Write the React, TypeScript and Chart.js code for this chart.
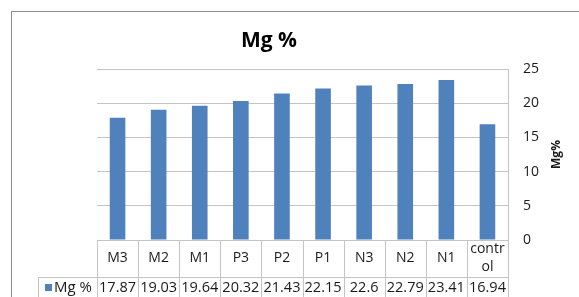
import React, { useEffect, useRef } from "react";
import { Chart, registerables } from "chart.js";

Chart.register(...registerables);

const categories: string[][] = [["M3"], ["M2"], ["M1"], ["P3"], ["P2"], ["P1"], ["N3"], ["N2"], ["N1"], ["contr", "ol"]];
const seriesName = "Mg %";
const mgValues: number[] = [17.87, 19.03, 19.64, 20.32, 21.43, 22.15, 22.6, 22.79, 23.41, 16.94];
const valueLabels: string[] = ["17.87", "19.03", "19.64", "20.32", "21.43", "22.15", "22.6", "22.79", "23.41", "16.94"];
const yTicks: number[] = [0, 5, 10, 15, 20, 25];
const chartTitle = "Mg %";
const yTitle = "Mg%";

const BAR = "#4f81bd";
const LINE = "#c4c4c4";
const TEXT = "#1a1a1a";
const FONT = "'Open Sans', 'Liberation Sans', sans-serif";

const tablePlugin = {
  id: "tablePlugin",
  afterDraw(chart: any) {
    const ctx = chart.ctx as CanvasRenderingContext2D;
    const area = chart.chartArea;
    const xs = chart.scales.x;
    const n = categories.length;
    const cw = (area.right - area.left) / n;
    const H = chart.height;
    const headerBottom = area.bottom + 37;
    ctx.save();
    // outer frame
    ctx.strokeStyle = "#8c8c8c";
    ctx.lineWidth = 1;
    ctx.strokeRect(11.5, 11.5, 800, 600);
    // chart title
    ctx.fillStyle = "#000";
    ctx.font = `bold 21px ${FONT}`;
    ctx.textAlign = "center";
    ctx.textBaseline = "alphabetic";
    ctx.fillText(chartTitle, 269, 47);
    // table lines
    ctx.strokeStyle = LINE;
    ctx.beginPath();
    for (let i = 0; i <= n; i++) {
      const x = Math.round(area.left + i * cw) + 0.5;
      ctx.moveTo(x, area.bottom);
      ctx.lineTo(x, H);
    }
    ctx.moveTo(38.5, Math.round(headerBottom) + 0.5);
    ctx.lineTo(area.right, Math.round(headerBottom) + 0.5);
    ctx.moveTo(38.5, Math.round(headerBottom) + 0.5);
    ctx.lineTo(38.5, H);
    ctx.stroke();
    // header labels
    ctx.fillStyle = TEXT;
    ctx.font = `14px ${FONT}`;
    ctx.textAlign = "center";
    ctx.textBaseline = "middle";
    categories.forEach((lab, i) => {
      const cx = xs.getPixelForValue(i);
      const mid = (area.bottom + headerBottom) / 2;
      if (lab.length === 1) {
        ctx.fillText(lab[0], cx, mid);
      } else {
        ctx.fillText(lab[0], cx, mid - 9);
        ctx.fillText(lab[1], cx, mid + 9);
      }
    });
    // values row
    ctx.font = `14.5px ${FONT}`;
    const rowMid = headerBottom + 11;
    valueLabels.forEach((v, i) => {
      const cx = xs.getPixelForValue(i);
      ctx.fillText(v, cx, rowMid);
    });
    // legend cell
    ctx.fillStyle = BAR;
    ctx.fillRect(45, rowMid - 4, 7, 7);
    ctx.fillStyle = TEXT;
    ctx.textAlign = "left";
    ctx.font = `15px ${FONT}`;
    ctx.fillText(seriesName, 54, rowMid);
    // y title, rotated
    ctx.save();
    ctx.translate(557, (area.top + area.bottom) / 2);
    ctx.rotate(-Math.PI / 2);
    ctx.textAlign = "center";
    ctx.font = `bold 12px ${FONT}`;
    ctx.fillText(yTitle, 0, 0);
    ctx.restore();
    ctx.restore();
  },
};

export default function App() {
  const ref = useRef<HTMLCanvasElement>(null);
  useEffect(() => {
    if (!ref.current) return;
    const chart = new Chart(ref.current, {
      type: "bar",
      data: {
        labels: categories.map((c) => c.join("")),
        datasets: [
          {
            label: seriesName,
            data: mgValues,
            backgroundColor: BAR,
            barPercentage: 0.38,
            categoryPercentage: 1,
          },
        ],
      },
      options: {
        animation: false,
        responsive: false,
        devicePixelRatio: 1,
        layout: { padding: { left: 97, right: 0, top: 69, bottom: 57 } },
        plugins: {
          legend: { display: false },
          tooltip: { enabled: false },
          title: { display: false },
        },
        scales: {
          x: { display: false, offset: true },
          y: {
            position: "right",
            min: 0,
            max: 25,
            afterBuildTicks: (s: any) => {
              s.ticks = yTicks.map((v) => ({ value: v }));
            },
            afterFit: (s: any) => {
              s.width = 71;
            },
            ticks: {
              padding: 15,
              color: TEXT,
              font: { family: FONT, size: 14 },
            },
            grid: { color: LINE, drawTicks: false },
            border: { display: true, color: LINE },
          },
        },
      },
      plugins: [tablePlugin],
    });
    return () => chart.destroy();
  }, []);
  return (
    <div style={{ position: "fixed", left: 0, top: 0, width: 579, height: 297, background: "#fff" }}>
      <canvas ref={ref} width={579} height={297} style={{ width: 579, height: 297, display: "block" }} />
    </div>
  );
}
